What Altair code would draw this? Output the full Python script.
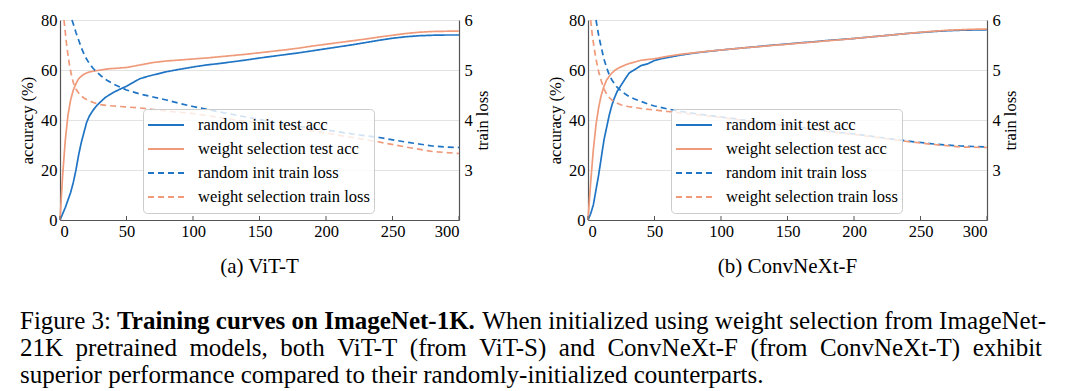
import altair as alt
import pandas as pd

FONT = "Liberation Serif"
BLUE = "#1f74c4"
ORANGE = "#ef9a7a"

SERIES = ["random init test acc", "weight selection test acc",
          "random init train loss", "weight selection train loss"]

X_TICKS = [0, 50, 100, 150, 200, 250, 300]
ACC_TICKS = [0, 20, 40, 60, 80]
LOSS_TICKS = [3, 4, 5, 6]

ACC_EPOCHS = [0, 2, 4, 6, 8, 10, 12, 14, 16, 18, 20, 22, 25, 28, 31, 34, 37, 40,
              45, 50, 55, 60, 65, 70, 80, 90, 100, 110, 120, 130, 140, 150, 160,
              170, 180, 190, 200, 210, 220, 230, 240, 250, 260, 270, 280, 290, 300]

# (a) ViT-T
VIT_ACC_RANDOM = [0, 2.5, 5, 8, 11, 15, 20, 26, 31, 35, 39, 41.5, 44, 46, 47.5, 49, 50, 51,
                  52.3, 53.5, 55, 56.5, 57.3, 58, 59.3, 60.3, 61.2, 62, 62.6, 63.3, 64, 64.8, 65.5,
                  66.2, 66.9, 67.7, 68.5, 69.3, 70.1, 71, 71.9, 72.7, 73.3, 73.7, 73.9, 74, 74]
VIT_ACC_WS = [0, 18, 32, 42, 48, 52, 54.5, 56.5, 57.5, 58.3, 58.8, 59.2, 59.5, 59.8, 60, 60.3, 60.5, 60.6,
              60.8, 61, 61.5, 62, 62.5, 63, 63.6, 64, 64.4, 64.8, 65.3, 65.8, 66.3, 66.9, 67.5,
              68.1, 68.8, 69.6, 70.3, 71, 71.7, 72.4, 73.2, 73.9, 74.6, 75.1, 75.4, 75.5, 75.6]
VIT_LOSS_RANDOM_EPOCHS = [9, 10, 12, 14, 16, 18, 20, 22, 25, 28, 31, 35, 40, 45, 50, 60, 70, 80, 90, 100,
                          120, 140, 160, 180, 200, 220, 240, 260, 270, 280, 290, 300]
VIT_LOSS_RANDOM = [6.0, 5.92, 5.75, 5.6, 5.45, 5.32, 5.22, 5.13, 5.03, 4.95, 4.88, 4.8, 4.72, 4.66, 4.6,
                   4.52, 4.46, 4.4, 4.33, 4.27, 4.16, 4.06, 3.96, 3.87, 3.8, 3.72, 3.65, 3.56, 3.52,
                   3.48, 3.46, 3.45]
VIT_LOSS_WS_EPOCHS = [3, 4, 5, 6, 7, 8, 9, 10, 12, 14, 16, 18, 20, 25, 30, 35, 40, 50, 60, 70, 80, 100,
                      120, 140, 160, 180, 200, 220, 240, 260, 280, 300]
VIT_LOSS_WS = [6.0, 5.75, 5.5, 5.3, 5.12, 4.98, 4.85, 4.75, 4.62, 4.54, 4.48, 4.44, 4.41, 4.35, 4.31,
               4.29, 4.28, 4.26, 4.24, 4.21, 4.18, 4.13, 4.05, 3.97, 3.9, 3.82, 3.74, 3.65, 3.56, 3.46,
               3.37, 3.33]

# (b) ConvNeXt-F
CNX_ACC_RANDOM = [0, 2.5, 6, 12, 18, 25, 32, 37, 42, 46, 49, 51.5, 54, 56.5, 58.8, 59.8, 60.8, 61.8,
                  62.5, 63.8, 64.5, 65, 65.5, 66, 66.8, 67.4, 68, 68.5, 69, 69.5, 70, 70.4, 70.9,
                  71.3, 71.8, 72.2, 72.6, 73.1, 73.6, 74.1, 74.6, 75, 75.4, 75.7, 75.9, 76, 76.1]
CNX_ACC_WS = [0, 15, 28, 38, 45, 50, 53.5, 56, 57.5, 58.8, 59.8, 60.5, 61.3, 62, 62.6, 63, 63.5, 63.9,
              64.2, 64.5, 65, 65.5, 65.9, 66.3, 66.9, 67.5, 68, 68.5, 69, 69.4, 69.9, 70.3, 70.8,
              71.2, 71.7, 72.1, 72.6, 73.1, 73.6, 74.1, 74.6, 75.1, 75.5, 75.9, 76.1, 76.3, 76.4]
CNX_LOSS_RANDOM_EPOCHS = [6, 7, 8, 9, 10, 12, 14, 16, 18, 20, 22, 25, 28, 31, 35, 40, 45, 50, 60, 70,
                          80, 100, 120, 140, 160, 180, 200, 220, 240, 260, 280, 300]
CNX_LOSS_RANDOM = [6.0, 5.85, 5.7, 5.57, 5.45, 5.22, 5.05, 4.9, 4.8, 4.72, 4.65, 4.58, 4.52, 4.47, 4.42,
                   4.37, 4.32, 4.28, 4.22, 4.17, 4.13, 4.06, 3.99, 3.92, 3.85, 3.78, 3.72, 3.65, 3.58,
                   3.52, 3.48, 3.46]
CNX_LOSS_WS_EPOCHS = [2, 3, 4, 5, 6, 8, 10, 12, 14, 16, 18, 20, 25, 30, 35, 40, 50, 60, 70, 80, 100,
                      120, 140, 160, 180, 200, 220, 240, 260, 280, 300]
CNX_LOSS_WS = [6.0, 5.75, 5.55, 5.38, 5.22, 4.97, 4.78, 4.62, 4.52, 4.45, 4.4, 4.36, 4.3, 4.27, 4.25,
               4.23, 4.2, 4.17, 4.14, 4.11, 4.05, 3.98, 3.91, 3.84, 3.77, 3.71, 3.64, 3.57, 3.51,
               3.46, 3.45]

SUBTITLES = ["(a) ViT-T", "(b) ConvNeXt-F"]
CAPTION_LABEL = ["Figure 3:"]
CAPTION_BOLD = ["Training curves on ImageNet-1K."]
CAPTION_REST = ["When initialized using weight selection from ImageNet-"]
CAPTION_LINE2 = ["21K pretrained models, both ViT-T (from ViT-S) and ConvNeXt-F (from ConvNeXt-T) exhibit"]
CAPTION_LINE3 = ["superior performance compared to their randomly-initialized counterparts."]

W, H = 399, 200
FS = 16.5
CFS = 25


def long_df(parts):
    rows = []
    for name, eps, vals in parts:
        assert len(eps) == len(vals), name
        rows += [{"epoch": e, "value": v, "series": name} for e, v in zip(eps, vals)]
    return pd.DataFrame(rows)


LEG = alt.Legend(title=None, orient="none", legendX=83, legendY=89, symbolType="stroke",
                 symbolSize=1296, symbolStrokeWidth=2, clipHeight=24, labelFont=FONT,
                 labelFontSize=FS, labelOffset=13, labelLimit=400, padding=4,
                 fillColor="rgba(255,255,255,0.8)", strokeColor="#cccccc", cornerRadius=4,
                 rowPadding=0, labelColor="black")

AXIS_STYLE = dict(labelFont=FONT, titleFont=FONT, labelFontSize=FS, titleFontSize=FS,
                  labelColor="black", titleColor="black", titleFontWeight="normal",
                  domainColor="#555", domainWidth=1.2, ticks=False)


def text_layer(values, x, y, size, weight="normal", align="left"):
    return alt.Chart(pd.DataFrame({"t": values})).mark_text(
        font=FONT, fontSize=size, fontWeight=weight, align=align, baseline="alphabetic",
        color="black").encode(text="t:N", x=alt.value(x), y=alt.value(y))


def justified(lines):
    # widen the inter-word spaces (en space) as in the typeset, justified caption
    return [s.replace(" ", "\u2002") for s in lines]


def panel(acc_r, acc_w, lr_ep, lr, lw_ep, lw, subtitle, caption=False):
    acc_df = long_df([(SERIES[0], ACC_EPOCHS, acc_r), (SERIES[1], ACC_EPOCHS, acc_w)])
    loss_df = long_df([(SERIES[2], lr_ep, lr), (SERIES[3], lw_ep, lw)])
    x = alt.X("epoch:Q", scale=alt.Scale(domain=[0, 300], nice=False, zero=False),
              axis=alt.Axis(values=X_TICKS, title=None, grid=False, labelPadding=3, **AXIS_STYLE))
    color = alt.Color("series:N", scale=alt.Scale(domain=SERIES, range=[BLUE, ORANGE, BLUE, ORANGE]),
                      legend=LEG)
    dash = alt.StrokeDash("series:N", scale=alt.Scale(domain=SERIES, range=[[1, 0], [1, 0], [6, 4], [6, 4]]),
                          legend=LEG)
    acc = alt.Chart(acc_df).mark_line(strokeWidth=1.7).encode(
        x=x,
        y=alt.Y("value:Q", scale=alt.Scale(domain=[0, 80], nice=False),
                axis=alt.Axis(title="accuracy (%)", orient="left", values=ACC_TICKS, grid=True,
                              gridColor="#e3e3e3", gridWidth=1, labelPadding=3, titlePadding=5,
                              **AXIS_STYLE)),
        color=color, strokeDash=dash, order="epoch:Q")
    loss = alt.Chart(loss_df).mark_line(strokeWidth=1.7).encode(
        x=x,
        y=alt.Y("value:Q", scale=alt.Scale(domain=[2, 6], nice=False, zero=False),
                axis=alt.Axis(title="train loss", orient="right", values=LOSS_TICKS, grid=False,
                              labelPadding=5, titleAngle=270, titleBaseline="top",
                              titlePadding=2, **AXIS_STYLE)),
        color=color, strokeDash=dash, order="epoch:Q")
    ticks = alt.Chart(pd.DataFrame({"epoch": X_TICKS})).mark_rule(color="#555", strokeWidth=1).encode(
        x=alt.X("epoch:Q"), y=alt.value(H), y2=alt.value(H - 4))
    layers = [acc, loss, ticks, text_layer([subtitle], W / 2, 253, 21, align="center")]
    if caption:
        layers += [
            text_layer(CAPTION_LABEL, -40, 309, CFS),
            text_layer(CAPTION_BOLD, 57, 309, CFS, weight="bold"),
            text_layer(CAPTION_REST, 986, 309, CFS, align="right"),
            text_layer(justified(CAPTION_LINE2), -40, 336, CFS),
            text_layer(CAPTION_LINE3, -40, 363, CFS),
        ]
    return alt.layer(*layers).resolve_scale(y="independent").properties(width=W, height=H)


left = panel(VIT_ACC_RANDOM, VIT_ACC_WS, VIT_LOSS_RANDOM_EPOCHS, VIT_LOSS_RANDOM,
             VIT_LOSS_WS_EPOCHS, VIT_LOSS_WS, SUBTITLES[0], caption=True)
right = panel(CNX_ACC_RANDOM, CNX_ACC_WS, CNX_LOSS_RANDOM_EPOCHS, CNX_LOSS_RANDOM,
              CNX_LOSS_WS_EPOCHS, CNX_LOSS_WS, SUBTITLES[1])

chart = alt.hconcat(left, right, spacing=129, bounds="flush").resolve_scale(
    color="independent", strokeDash="independent"
).properties(
    padding={"left": 11, "top": 3, "right": 5, "bottom": 0}
).configure_view(stroke="transparent")

chart.save("out.html", embed_options={"renderer": "svg", "actions": False})
